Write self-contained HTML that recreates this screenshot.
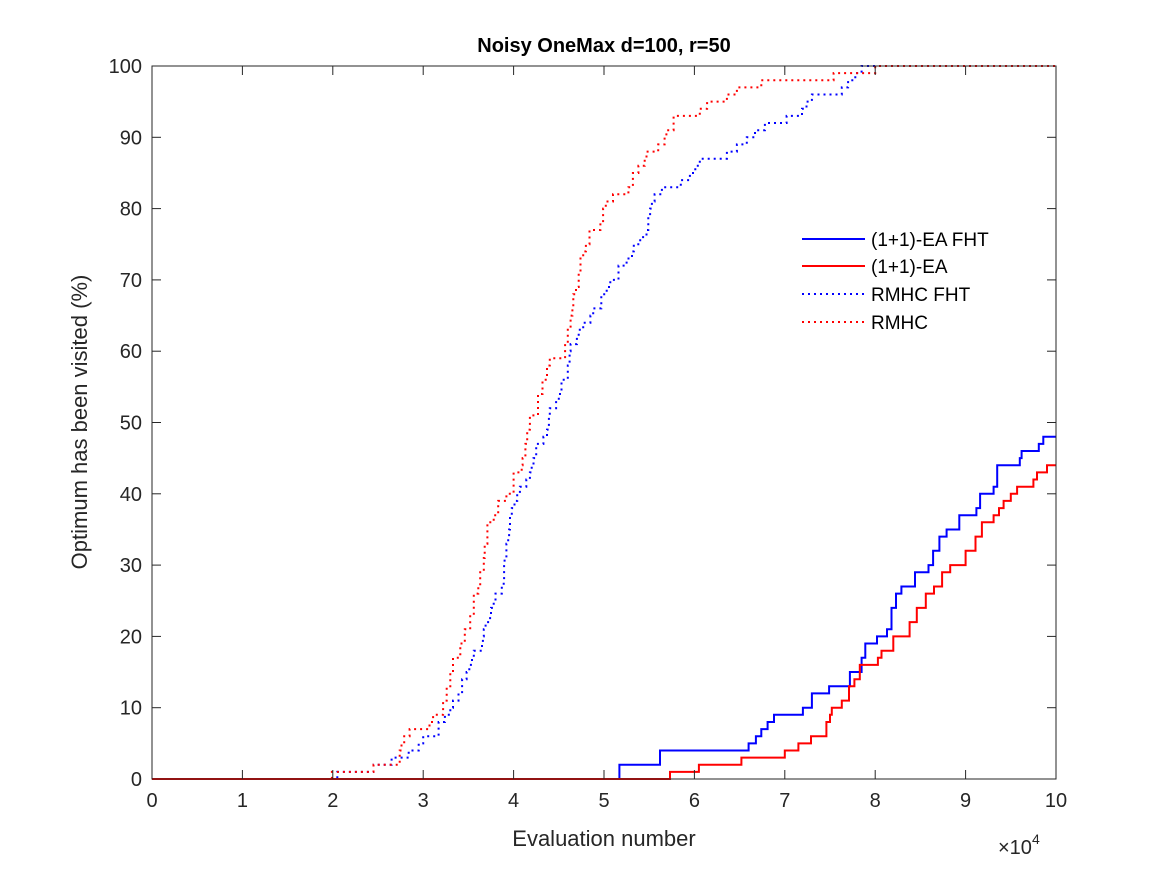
<!DOCTYPE html>
<html><head><meta charset="utf-8"><style>
body{margin:0;background:#fff;}
svg{display:block;font-family:"Liberation Sans",sans-serif;}
</style></head><body>
<svg id="chart" width="1167" height="875" viewBox="0 0 1167 875">
<rect width="1167" height="875" fill="#fff"/>
<g id="marks"></g>
<g id="axes"></g>
</svg>
<script>
const xTicks=[0,1,2,3,4,5,6,7,8,9,10];
const yTicks=[0,10,20,30,40,50,60,70,80,90,100];
const eaFhtX=[0,5.17,5.62,6.6,6.68,6.74,6.81,6.88,7.2,7.3,7.49,7.72,7.85,7.89,8.02,8.13,8.18,8.23,8.29,8.44,8.59,8.64,8.71,8.79,8.93,9.12,9.16,9.31,9.35,9.6,9.62,9.81,9.86,10];
const eaFhtY=[0,2,4,5,6,7,8,9,10,12,13,15,17,19,20,21,24,26,27,29,30,32,34,35,37,38,40,41,44,45,46,47,48,48];
const eaX=[0,5.73,6.05,6.52,7.0,7.15,7.29,7.46,7.5,7.52,7.63,7.71,7.77,7.83,8.03,8.07,8.2,8.38,8.46,8.56,8.65,8.74,8.83,9.0,9.11,9.18,9.31,9.37,9.42,9.5,9.57,9.75,9.79,9.9,10];
const eaY=[0,1,2,3,4,5,6,8,9,10,11,13,14,16,17,18,20,22,24,26,27,29,30,32,34,36,37,38,39,40,41,42,43,44,44];
const rmhcFhtX=[0,2.05,2.45,2.65,2.84,2.95,3.0,3.17,3.24,3.3,3.33,3.39,3.43,3.48,3.51,3.54,3.56,3.65,3.66,3.67,3.69,3.74,3.75,3.78,3.8,3.87,3.89,3.895,3.9,3.92,3.94,3.95,3.96,3.98,4.01,4.04,4.07,4.14,4.18,4.2,4.22,4.25,4.33,4.37,4.39,4.4,4.47,4.5,4.53,4.6,4.62,4.63,4.7,4.72,4.77,4.85,4.88,4.97,5.03,5.07,5.16,5.25,5.31,5.33,5.4,5.47,5.49,5.51,5.53,5.56,5.64,5.85,5.95,6.01,6.06,6.36,6.47,6.58,6.67,6.78,7.02,7.19,7.24,7.3,7.63,7.7,7.78,7.85,10];
const rmhcFhtY=[0,1,2,3,4,5,6,8,9,10,11,12,14,15,16,17,18,19,20,21,22,23,24,25,26,27,28,30,31,33,34,35,37,38,39,40,41,42,43,44,45,47,48,49,51,52,53,54,56,58,60,61,62,63,64,65,66,68,69,70,72,73,74,75,76,77,79,80,81,82,83,84,85,86,87,88,89,90,91,92,93,94,95,96,97,98,99,100,100];
const rmhcX=[0,1.99,2.45,2.74,2.76,2.79,2.85,3.07,3.11,3.22,3.26,3.3,3.33,3.41,3.46,3.52,3.56,3.61,3.63,3.67,3.68,3.71,3.78,3.83,3.92,4.0,4.09,4.1,4.13,4.15,4.18,4.27,4.32,4.37,4.4,4.57,4.6,4.63,4.65,4.66,4.69,4.72,4.74,4.77,4.8,4.84,4.96,4.99,5.02,5.1,5.27,5.32,5.38,5.45,5.47,5.6,5.67,5.69,5.77,6.06,6.14,6.36,6.47,6.74,7.54,8.0,10];
const rmhcY=[0,1,2,4,5,6,7,8,9,11,13,15,17,19,21,23,26,27,29,31,33,36,37,39,40,43,44,45,47,49,51,54,56,58,59,61,63,65,66,68,69,71,73,74,75,77,78,80,81,82,83,85,86,87,88,89,90,91,93,94,95,96,97,98,99,100,100];

const L=152,R=1056,T=66,B=779;
const sx=v=>L+(v-0)/(10-0)*(R-L);
const sy=v=>B-(v-0)/(100-0)*(B-T);
const NS='http://www.w3.org/2000/svg';
const marks=document.getElementById('marks'), axes=document.getElementById('axes');
function mk(tag,attrs,parent){const e=document.createElementNS(NS,tag);for(const k in attrs)e.setAttribute(k,attrs[k]);parent.appendChild(e);return e;}
function stairs(xs,ys){let d='M'+sx(xs[0]).toFixed(1)+','+sy(ys[0]).toFixed(1);
 for(let i=1;i<xs.length;i++){d+=' L'+sx(xs[i]).toFixed(1)+','+sy(ys[i-1]).toFixed(1)+' L'+sx(xs[i]).toFixed(1)+','+sy(ys[i]).toFixed(1);}return d;}
const series=[
 {x:rmhcFhtX,y:rmhcFhtY,c:'#0000ff',dash:'2,4',name:'series-rmhc-fht'},
 {x:rmhcX,y:rmhcY,c:'#ff0000',dash:'2,4',name:'series-rmhc'},
 {x:eaFhtX,y:eaFhtY,c:'#0000ff',dash:'',name:'series-ea-fht'},
 {x:eaX,y:eaY,c:'#ff0000',dash:'',name:'series-ea'}];
series.forEach(s=>{const p=mk('path',{d:stairs(s.x,s.y),fill:'none',stroke:s.c,'stroke-width':2},marks);
 if(s.dash)p.setAttribute('stroke-dasharray',s.dash);
 
 });

const ac='#262626';
const box=mk('rect',{x:L,y:T,width:R-L,height:B-T,fill:'none',stroke:ac,'stroke-width':1},axes);


xTicks.forEach(v=>{const x=sx(v);
 mk('line',{x1:x,y1:B,x2:x,y2:B-9,stroke:ac},axes);mk('line',{x1:x,y1:T,x2:x,y2:T+9,stroke:ac},axes);
 const t=mk('text',{x:x,y:B+28,'text-anchor':'middle','font-size':20,fill:ac},axes);t.textContent=v;
 
 });
yTicks.forEach(v=>{const y=sy(v);
 mk('line',{x1:L,y1:y,x2:L+9,y2:y,stroke:ac},axes);mk('line',{x1:R,y1:y,x2:R-9,y2:y,stroke:ac},axes);
 const t=mk('text',{x:L-10,y:y+7,'text-anchor':'end','font-size':20,fill:ac},axes);t.textContent=v;
 
 });
</script>
<svg width="1167" height="875" style="position:absolute;left:0;top:0" font-family="Liberation Sans, sans-serif">
<text x="604" y="52" text-anchor="middle" font-size="20" font-weight="bold" fill="#000">Noisy OneMax d=100, r=50</text>
<text x="604" y="846" text-anchor="middle" font-size="22" fill="#262626">Evaluation number</text>
<text x="998" y="854" font-size="20" fill="#262626">×10<tspan font-size="14" dy="-10">4</tspan></text>
<text transform="translate(87,422) rotate(-90)" text-anchor="middle" font-size="22" fill="#262626">Optimum has been visited (%)</text>
<g>
<line x1="802" y1="239" x2="865" y2="239" stroke="#0000ff" stroke-width="2"/>
<text x="871" y="246" font-size="19" fill="#000">(1+1)-EA FHT</text>
<line x1="802" y1="266" x2="865" y2="266" stroke="#ff0000" stroke-width="2"/>
<text x="871" y="273" font-size="19" fill="#000">(1+1)-EA</text>
<line x1="802" y1="294" x2="865" y2="294" stroke="#0000ff" stroke-width="2" stroke-dasharray="2,4"/>
<text x="871" y="301" font-size="19" fill="#000">RMHC FHT</text>
<line x1="802" y1="322" x2="865" y2="322" stroke="#ff0000" stroke-width="2" stroke-dasharray="2,4"/>
<text x="871" y="329" font-size="19" fill="#000">RMHC</text>
</g>
</svg>
</body></html>
